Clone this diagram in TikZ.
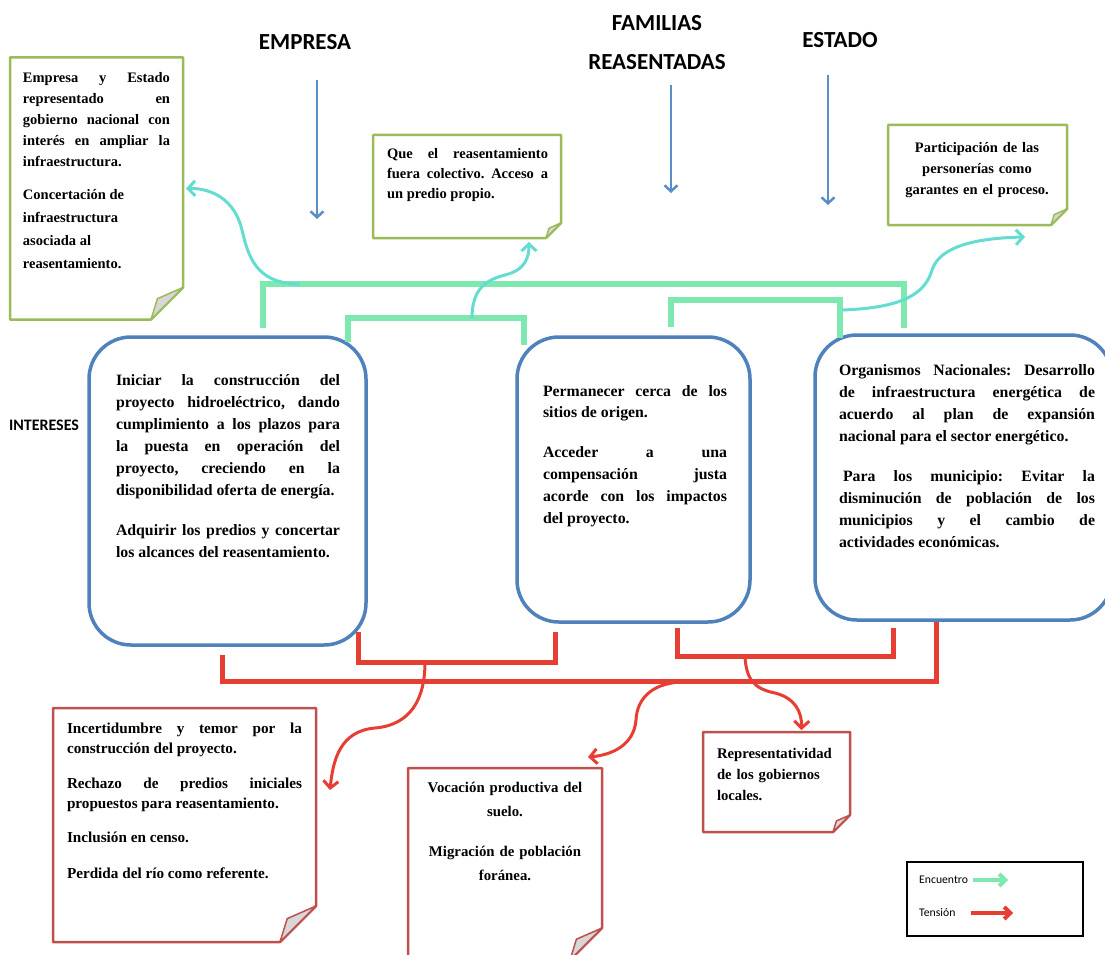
\documentclass[tikz,border=0pt]{standalone}
\usepackage{fontspec}
\setmainfont{Liberation Serif}
\newfontfamily\carl{Carlito}
\usetikzlibrary{arrows.meta,calc}
\frenchspacing
\definecolor{boxblue}{RGB}{79,129,189}
\definecolor{notegreen}{RGB}{155,187,89}
\definecolor{notered}{RGB}{192,80,77}
\definecolor{encgreen}{RGB}{125,232,175}
\definecolor{enccyan}{RGB}{100,220,210}
\definecolor{tenred}{RGB}{230,62,50}
\definecolor{arrowblue}{RGB}{91,141,201}
\definecolor{foldgray}{RGB}{215,215,215}
\newcommand\NoteShape[3]{%
  \draw[draw=#3, line width=2.5pt, line join=round, fill=white]
    (#1.north west) -- (#1.north east) -- ([yshift=#2pt]#1.south east)
    -- ([xshift=-#2pt]#1.south east) -- (#1.south west) -- cycle;
  \draw[draw=#3, line width=1.5pt, line join=round, fill=foldgray]
    ([yshift=#2pt]#1.south east) -- ([xshift=-0.8*#2pt, yshift=0.65*#2pt]#1.south east)
    -- ([xshift=-#2pt]#1.south east) -- cycle;
}
\tikzset{
  bigbox/.style={draw=boxblue, line width=3.5pt, rounded corners=42pt, inner sep=0pt, outer sep=0pt, fill=white},
  frame/.style={inner sep=0pt, outer sep=0pt},
  txt/.style={anchor=base west, inner sep=0pt, outer sep=0pt, align=justify},
  ctxt/.style={anchor=base, inner sep=0pt, outer sep=0pt, align=center},
  hdr/.style={font=\carl\bfseries\fontsize{23}{39}\selectfont, align=center, inner sep=0pt},
  enc/.style={draw=encgreen, line width=6pt},
  encarrow/.style={draw=enccyan, line width=3pt, -{Straight Barb[length=7pt,width=15pt]}},
  ten/.style={draw=tenred, line width=5pt},
  tenarrow/.style={draw=tenred, line width=3pt, -{Straight Barb[length=7pt,width=15pt]}},
  toparrow/.style={draw=arrowblue, line width=2.5pt, -{Straight Barb[length=6pt,width=13pt]}},
  legbox/.style={draw=black, line width=2.5pt, inner sep=0pt},
  legtxt/.style={font=\carl\fontsize{11.7}{14}\selectfont, inner sep=0pt, anchor=west},
}
\begin{document}
\begin{tikzpicture}[x=1pt,y=-1pt]
\useasboundingbox (0,0) rectangle (1105,955);

% headers
\node[hdr] (hEmp) at (305,42) {EMPRESA};
\node[hdr] (hFam) at (657,42.5) {FAMILIAS\\REASENTADAS};
\node[hdr] (hEst) at (840,40) {ESTADO};
\node[font=\carl\bfseries\fontsize{16}{18}\selectfont, inner sep=0pt] (hInt) at (44,425) {INTERESES};

% top arrows
\coordinate (aE1) at (317,80);  \coordinate (aE2) at (317,219);
\coordinate (aF1) at (671,85);  \coordinate (aF2) at (671,193);
\coordinate (aS1) at (828,75);  \coordinate (aS2) at (828,205);
\draw[toparrow] (aE1) -- (aE2);
\draw[toparrow] (aF1) -- (aF2);
\draw[toparrow] (aS1) -- (aS2);

% green notes
\node[frame, minimum width=173, minimum height=262] (nTL) at (96.5,188.5) {};
\NoteShape{nTL}{32}{notegreen}
\node[frame, minimum width=188, minimum height=103] (nTC) at (467,186.5) {};
\NoteShape{nTC}{15}{notegreen}
\node[frame, minimum width=179, minimum height=100] (nTR) at (977.5,175) {};
\NoteShape{nTR}{16}{notegreen}

\node[txt, text width=147, font=\bfseries\fontsize{14.5}{21}\selectfont] (tTL) at (23,83)
 {Empresa y Estado\linebreak representado en\linebreak gobierno nacional con\linebreak interés en ampliar la\linebreak infraestructura.\par\vspace{10pt}
  \fontsize{14.5}{23}\selectfont Concertación de\newline infraestructura\newline asociada al\newline reasentamiento.\par};
\node[txt, text width=161, font=\bfseries\fontsize{14.5}{20}\selectfont] (tTC) at (387,158)
 {Que el reasentamiento\linebreak fuera colectivo. Acceso a\linebreak un predio propio.};
\node[ctxt, text width=170, font=\bfseries\fontsize{14.5}{21}\selectfont] (tTR) at (977,152)
 {Participación de las\\personerías como\\garantes en el proceso.};

% big boxes
\node[bigbox, minimum width=277, minimum height=308] (b1) at (227.5,491) {};
\node[bigbox, minimum width=233, minimum height=285] (b2) at (633.5,479.5) {};
\node[bigbox, minimum width=297, minimum height=285] (b3) at (963.5,477.5) {};

\node[txt, text width=224, font=\bfseries\fontsize{15.8}{22}\selectfont] (t1) at (116,385)
 {Iniciar la construcción del\linebreak proyecto hidroeléctrico, dando\linebreak cumplimiento a los plazos para\linebreak la puesta en operación del\linebreak proyecto, creciendo en la\linebreak disponibilidad oferta de energía.\par\vspace{18pt}
  Adquirir los predios y concertar\linebreak los alcances del reasentamiento.\par};
\node[txt, text width=184, font=\bfseries\fontsize{15.8}{21.8}\selectfont] (t2) at (543,396)
 {Permanecer cerca de los\linebreak sitios de origen.\par\vspace{18pt}
  Acceder a una\linebreak compensación justa\linebreak acorde con los impactos\linebreak del proyecto.\par};
\node[txt, text width=256, font=\bfseries\fontsize{15.8}{22}\selectfont] (t3) at (839,375)
 {Organismos Nacionales: Desarrollo\linebreak de infraestructura energética de\linebreak acuerdo al plan de expansión\linebreak nacional para el sector energético.\par\vspace{18pt}
  \hspace*{4pt}Para los municipio: Evitar la\linebreak disminución de población de los\linebreak municipios y el cambio de\linebreak actividades económicas.\par};

% green brackets (encuentro)
\coordinate (g1l) at (263,328); \coordinate (g1r) at (904,328);
\coordinate (g2l) at (348,342); \coordinate (g2r) at (524,345);
\coordinate (g3l) at (671,327); \coordinate (g3r) at (840,338);
\draw[enc] (g1l) -- ++(0,-44) -| (g1r);
\draw[enc] (g2l) -- ++(0,-24) -| (g2r);
\draw[enc] (g3l) -- ++(0,-27) -| (g3r);

% cyan curved arrows
\coordinate (c1s) at (300,284);
\coordinate (c2s) at (472,318);
\coordinate (c3s) at (842,310);
\coordinate (c3e) at (1025,237);
\draw[encarrow] (c1s) .. controls (255,284) and (248,255) .. (242,230)
  .. controls (235,200) and (212,188) .. ([xshift=3pt]nTL.east);
\draw[encarrow] (c2s) .. controls (472,290) and (485,280) .. (505,275)
  .. controls (525,270) and (529,258) .. (529,242);
\draw[encarrow] (c3s) .. controls (900,308) and (925,295) .. (932,270)
  .. controls (940,245) and (980,238) .. (c3e);

% red notes
\node[frame, minimum width=263, minimum height=234] (nBL) at (184.5,825) {};
\NoteShape{nBL}{36}{notered}
\node[frame, minimum width=194, minimum height=192] (nBM) at (505,864) {};
\NoteShape{nBM}{32}{notered}
\node[frame, minimum width=147, minimum height=100] (nBR) at (776.5,782) {};
\NoteShape{nBR}{17}{notered}

\node[txt, text width=235, font=\bfseries\fontsize{15.2}{20}\selectfont] (tBL) at (67,733)
 {Incertidumbre y temor por la\linebreak construcción del proyecto.\par\vspace{15pt}
  Rechazo de predios iniciales\linebreak propuestos para reasentamiento.\par\vspace{14pt}
  Inclusión en censo.\par\vspace{16pt}
  Perdida del río como referente.\par};
\node[ctxt, text width=185, font=\bfseries\fontsize{14.8}{24}\selectfont] (tBM) at (505,792)
 {Vocación productiva del\\suelo.\\[16pt]Migración de población\\foránea.};
\node[txt, align=left, text width=130, font=\bfseries\fontsize{14.7}{21}\selectfont] (tBR) at (717,758)
 {Representatividad\\de los gobiernos\\locales.};

% red brackets (tension)
\coordinate (r1l) at (222,655); \coordinate (r1r) at (936,622);
\coordinate (r2l) at (358,632); \coordinate (r2r) at (555,632);
\coordinate (r3l) at (677,628); \coordinate (r3r) at (893,628);
\draw[ten] (r1l) -- ++(0,26) -| (r1r);
\draw[ten] (r2l) -- ++(0,30) -| (r2r);
\draw[ten] (r3l) -- ++(0,28) -| (r3r);

% red curved arrows
\coordinate (s1) at (425,662);
\coordinate (s2) at (680,682);
\coordinate (s3) at (745,656);
\coordinate (e1) at (330,790);
\coordinate (e2) at (588,757);
\draw[tenarrow] (s1) .. controls (425,700) and (410,725) .. (375,728)
  .. controls (340,731) and (333,760) .. (e1);
\draw[tenarrow] (s2) .. controls (650,684) and (637,700) .. (636,720)
  .. controls (634,745) and (612,755) .. (e2);
\draw[tenarrow] (s3) .. controls (746,680) and (755,689) .. (775,693)
  .. controls (795,698) and (802,712) .. ([xshift=25pt,yshift=2pt]nBR.north);

% legend
\node[legbox, minimum width=176, minimum height=74] (leg) at (995,899) {};
\node[legtxt] (lE) at (919,880) {Encuentro};
\node[legtxt] (lT) at (919,913) {Tensión};
\coordinate (lEe) at (1008,880);
\coordinate (lTe) at (1013,913);
\draw[draw=encgreen, line width=4pt, -{Straight Barb[length=6pt,width=12pt]}] ([xshift=5pt]lE.east) -- (lEe);
\draw[draw=tenred, line width=4pt, -{Straight Barb[length=6pt,width=12pt]}] ([xshift=15pt]lT.east) -- (lTe);
\end{tikzpicture}
\end{document}
